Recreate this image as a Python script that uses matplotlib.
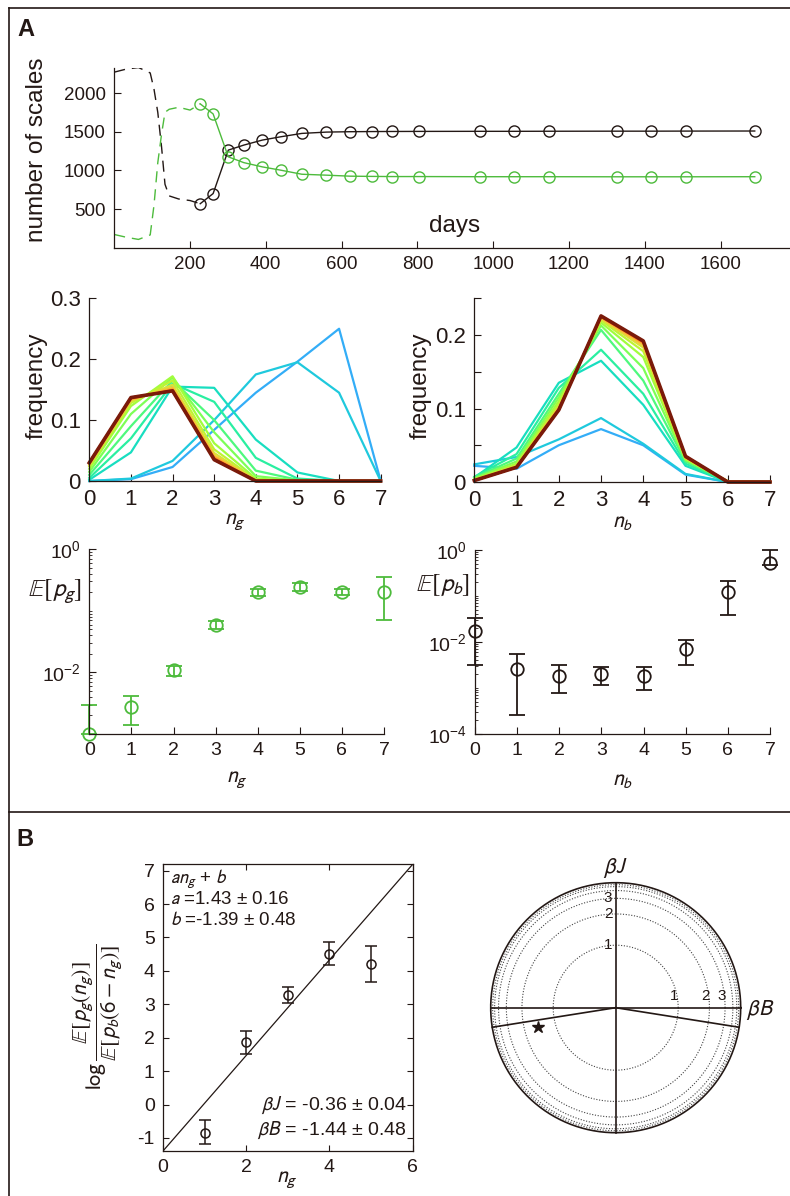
import matplotlib
matplotlib.use("Agg")
import matplotlib.pyplot as plt
import numpy as np
from matplotlib.lines import Line2D
from matplotlib.ticker import LogLocator, NullFormatter

plt.rcParams['font.family'] = ['Liberation Sans', 'DejaVu Sans']
plt.rcParams['mathtext.fontset'] = 'stixsans'
plt.rcParams['axes.unicode_minus'] = False

INK = '#231815'
GREEN = '#4dbb3c'

# ---- panel A, top: number of scales over time ----
days = [227, 261, 301, 342, 391, 440, 495, 560, 622, 679, 732, 805, 965, 1056, 1146, 1327, 1416, 1509, 1690]
n_black = [569, 700, 1262, 1327, 1392, 1435, 1478, 1495, 1500, 1502, 1503, 1504, 1505, 1505, 1506, 1507, 1507, 1508, 1509]
n_green = [1860, 1730, 1175, 1100, 1045, 1002, 950, 938, 925, 922, 920, 920, 918, 918, 918, 917, 917, 917, 918]
early_days = [0, 32, 64, 95, 105, 115, 125, 134, 145, 170, 200, 227]
early_black = [2270, 2310, 2330, 2260, 2050, 1750, 1300, 820, 670, 630, 610, 569]
early_green = [171, 135, 107, 165, 550, 1100, 1470, 1751, 1790, 1816, 1780, 1860]

# ---- panel A, middle: frequency of n_g / n_b (one row per time point) ----
n_vals = [0, 1, 2, 3, 4, 5, 6, 7]
freq_g = [
    [0.000, 0.003, 0.023, 0.084, 0.145, 0.196, 0.250, 0.0],
    [0.000, 0.004, 0.033, 0.100, 0.175, 0.195, 0.145, 0.0],
    [0.002, 0.047, 0.155, 0.153, 0.068, 0.014, 0.000, 0.0],
    [0.005, 0.070, 0.160, 0.130, 0.038, 0.004, 0.000, 0.0],
    [0.010, 0.090, 0.165, 0.100, 0.017, 0.002, 0.000, 0.0],
    [0.015, 0.110, 0.170, 0.080, 0.008, 0.001, 0.000, 0.0],
    [0.020, 0.123, 0.172, 0.062, 0.004, 0.000, 0.000, 0.0],
    [0.024, 0.128, 0.165, 0.052, 0.002, 0.000, 0.000, 0.0],
    [0.026, 0.131, 0.158, 0.046, 0.001, 0.000, 0.000, 0.0],
    [0.027, 0.133, 0.154, 0.042, 0.001, 0.000, 0.000, 0.0],
    [0.028, 0.134, 0.152, 0.040, 0.000, 0.000, 0.000, 0.0],
    [0.029, 0.135, 0.150, 0.038, 0.000, 0.000, 0.000, 0.0],
    [0.029, 0.136, 0.149, 0.037, 0.000, 0.000, 0.000, 0.0],
    [0.030, 0.136, 0.149, 0.036, 0.000, 0.000, 0.000, 0.0],
    [0.030, 0.137, 0.148, 0.036, 0.000, 0.000, 0.000, 0.0],
    [0.030, 0.137, 0.148, 0.035, 0.000, 0.000, 0.000, 0.0],
    [0.030, 0.137, 0.148, 0.035, 0.000, 0.000, 0.000, 0.0],
]
freq_b = [
    [0.022, 0.018, 0.050, 0.072, 0.050, 0.010, 0.000, 0.0],
    [0.024, 0.034, 0.058, 0.087, 0.052, 0.011, 0.000, 0.0],
    [0.006, 0.047, 0.135, 0.165, 0.105, 0.022, 0.000, 0.0],
    [0.007, 0.038, 0.128, 0.180, 0.120, 0.025, 0.000, 0.0],
    [0.006, 0.032, 0.120, 0.207, 0.138, 0.028, 0.001, 0.0],
    [0.005, 0.028, 0.115, 0.213, 0.155, 0.030, 0.001, 0.0],
    [0.004, 0.025, 0.110, 0.217, 0.170, 0.031, 0.001, 0.0],
    [0.003, 0.023, 0.106, 0.220, 0.178, 0.032, 0.001, 0.0],
    [0.003, 0.022, 0.103, 0.222, 0.183, 0.033, 0.001, 0.0],
    [0.003, 0.021, 0.101, 0.223, 0.186, 0.033, 0.001, 0.0],
    [0.002, 0.021, 0.100, 0.224, 0.188, 0.034, 0.000, 0.0],
    [0.002, 0.020, 0.099, 0.225, 0.190, 0.034, 0.000, 0.0],
    [0.002, 0.020, 0.099, 0.225, 0.190, 0.034, 0.000, 0.0],
    [0.002, 0.020, 0.099, 0.225, 0.191, 0.034, 0.000, 0.0],
    [0.002, 0.020, 0.098, 0.226, 0.191, 0.035, 0.000, 0.0],
    [0.002, 0.020, 0.098, 0.226, 0.192, 0.035, 0.000, 0.0],
    [0.002, 0.020, 0.098, 0.226, 0.192, 0.035, 0.000, 0.0],
]

# ---- panel A, bottom: E[p_g], E[p_b] with error bars ----
pg_mean = [1.0e-3, 2.7e-3, 1.1e-2, 5.9e-2, 0.200, 0.240, 0.204, 0.200]
pg_lo = [1.0e-3, 1.38e-3, 8.9e-3, 5.0e-2, 0.174, 0.209, 0.178, 0.071]
pg_hi = [2.95e-3, 4.2e-3, 1.29e-2, 6.8e-2, 0.230, 0.285, 0.230, 0.350]
pb_mean = [1.7e-2, 2.57e-3, 1.86e-3, 2.0e-3, 1.78e-3, 7.1e-3, 0.123, 0.525]
pb_lo = [3.1e-3, 2.6e-4, 7.6e-4, 1.15e-3, 9.1e-4, 3.1e-3, 3.9e-2, 0.47]
pb_hi = [3.3e-2, 5.5e-3, 3.1e-3, 2.9e-3, 2.8e-3, 1.12e-2, 0.214, 0.985]

# ---- panel B ----
ng_fit = [1, 2, 3, 4, 5]
log_ratio = [-0.84, 1.87, 3.27, 4.52, 4.21]
log_ratio_lo = [-1.19, 1.52, 3.03, 4.18, 3.67]
log_ratio_hi = [-0.45, 2.20, 3.52, 4.86, 4.75]
fit_a, fit_b = 1.43, -1.39
beta_B, beta_J = -1.44, -0.36
ring_values = [1, 2, 3, 4, 5, 6]
boundary_angles = [189, 351]

W, H = 790, 1196
fig = plt.figure(figsize=(W / 100, H / 100), dpi=100)


def axes_px(left, top, right, bottom):
    return fig.add_axes([left / W, 1 - bottom / H, (right - left) / W, (bottom - top) / H])


def text_px(x, y, s, **kw):
    kw.setdefault('color', INK)
    kw.setdefault('ha', 'center')
    kw.setdefault('va', 'center')
    fig.text(x / W, 1 - y / H, s, **kw)


def style(ax, size, box=False):
    ax.spines['top'].set_visible(box)
    ax.spines['right'].set_visible(box)
    for s in ax.spines.values():
        s.set_color(INK)
        s.set_linewidth(0.9)
    ax.tick_params(which='major', direction='in', length=5, width=0.8, colors=INK,
                   labelsize=size, top=box, right=box, pad=6)
    ax.tick_params(which='minor', direction='in', length=2.5, width=0.6, colors=INK,
                   top=box, right=box)
    ax.set_facecolor('none')


# frame lines
for xs, ys in [([9, 790], [8, 8]), ([9, 9], [8, 1196]), ([9, 790], [812, 812])]:
    fig.add_artist(Line2D([x / W for x in xs], [1 - y / H for y in ys], color=INK, lw=1.2))

text_px(26, 29, 'A', fontsize=17, fontweight='bold')
text_px(25, 839, 'B', fontsize=17, fontweight='bold')

# ---- top time series ----
ax = axes_px(114.2, 68.3, 790, 247.7)
ax.plot(early_days, early_black, color=INK, lw=1, dashes=(8, 5))
ax.plot(early_days, early_green, color=GREEN, lw=1, dashes=(8, 5))
ax.plot(days, n_black, color=INK, lw=1, marker='o', ms=8, mfc='none', mew=1)
ax.plot(days, n_green, color=GREEN, lw=1, marker='o', ms=8, mfc='none', mew=1)
ax.set_xlim(0, 1783)
ax.set_ylim(0, 2320)
ax.set_xticks(range(200, 1601, 200))
ax.set_yticks([500, 1000, 1500, 2000])
style(ax, 13.5)
text_px(37, 150, 'number of scales', fontsize=17.5, rotation=90)
text_px(455, 226, 'days', fontsize=17.5)

# ---- frequency panels ----
for rows, lims, pos, yt, lab, ylab_x in [
        (freq_g, 0.3, (89.3, 298.3, 380.7, 481), [0, 0.1, 0.2, 0.3], '$n_g$', 37),
        (freq_b, 0.25, (474.3, 298.3, 770, 482), [0, 0.1, 0.2], '$n_b$', 421)]:
    ax = axes_px(*pos)
    cols = plt.cm.turbo(np.linspace(0.23, 0.9, len(rows) - 1))
    for k, row in enumerate(rows[:-1]):
        ax.plot(n_vals, row, color=cols[k], lw=1.6, clip_on=False)
    ax.plot(n_vals, rows[-1], color='#7a1a0a', lw=2.6, clip_on=False)
    ax.set_xlim(0, 7)
    ax.set_ylim(0, lims)
    ax.set_xticks(n_vals)
    ax.set_yticks(yt)
    ax.set_yticklabels(['0' if v == 0 else f'{v:g}' for v in yt])
    if lims == 0.25:
        ax.set_yticks([0.05, 0.15, 0.25], minor=True)
    style(ax, 16)
    if lims == 0.25:
        ax.tick_params(which='minor', length=5, width=0.8)
    text_px(ylab_x, 386, 'frequency', fontsize=17.5, rotation=90)
    text_px((pos[0] + pos[2]) / 2, 521, lab, fontsize=16)

# ---- expected probability panels ----
for mean, lo, hi, col, pos, ylim, major, lab, ylab, ylab_xy in [
        (pg_mean, pg_lo, pg_hi, GREEN, (89.3, 549.3, 384, 734), (1e-3, 1), [1e-2, 1],
         '$n_g$', r'$\mathbb{E}[p_g]$', (55, 592)),
        (pb_mean, pb_lo, pb_hi, INK, (475, 550, 770, 734), (1e-4, 1), [1e-4, 1e-2, 1],
         '$n_b$', r'$\mathbb{E}[p_b]$', (443, 585))]:
    ax = axes_px(*pos)
    m = np.array(mean)
    err = [m - np.array(lo), np.array(hi) - m]
    ax.errorbar(n_vals, m, yerr=err, fmt='o', color=col, ms=9, mfc='none', mew=1.3,
                elinewidth=1.3, capsize=6, capthick=1.3, clip_on=False)
    ax.set_yscale('log')
    ax.set_xlim(0, 7)
    ax.set_ylim(*ylim)
    ax.set_xticks(n_vals)
    ax.set_yticks(major)
    ax.yaxis.set_minor_locator(LogLocator(base=10, subs=np.arange(1, 10), numticks=20))
    ax.yaxis.set_minor_formatter(NullFormatter())
    style(ax, 14)
    text_px(ylab_xy[0], ylab_xy[1], ylab, fontsize=18)
    text_px((pos[0] + pos[2]) / 2, 780, lab, fontsize=16)

# ---- panel B left: log ratio vs n_g ----
ax = axes_px(163, 864.3, 412.7, 1151)
xf = np.array([0, 6])
ax.plot(xf, fit_a * xf + fit_b, color=INK, lw=0.9)
r = np.array(log_ratio)
ax.errorbar(ng_fit, r, yerr=[r - np.array(log_ratio_lo), np.array(log_ratio_hi) - r],
            fmt='o', color=INK, ms=6.5, mfc='none', mew=1.1, elinewidth=1.1,
            capsize=4, capthick=1.1)
ax.set_xlim(0, 6)
ax.set_ylim(fit_b, fit_a * 6 + fit_b)
ax.set_xticks([0, 2, 4, 6])
ax.set_yticks(range(-1, 8))
style(ax, 14, box=True)
ax.tick_params(which='major', length=4)
for y, s in [(0.95, r'$an_g$ + $b$'), (0.878, r'$a$ =1.43 ± 0.16'), (0.806, r'$b$ =-1.39 ± 0.48')]:
    ax.text(0.028, y, s, transform=ax.transAxes, fontsize=13.5, color=INK, va='center')
for y, s in [(0.16, r'$\beta J$ = -0.36 ± 0.04'), (0.073, r'$\beta B$ = -1.44 ± 0.48')]:
    ax.text(0.976, y, s, transform=ax.transAxes, fontsize=14, color=INK, va='center', ha='right')
text_px(97, 1017, r'$\log\dfrac{\mathbb{E}[p_g(n_g)]}{\mathbb{E}[p_b(6-n_g)]}$', fontsize=16, rotation=90)
text_px(287, 1180, '$n_g$', fontsize=16)

# ---- panel B right: phase diagram on a squashed disc ----
R_px = 125
ax = axes_px(615.7 - 135, 1007.7 - 135, 615.7 + 135, 1007.7 + 135)
ax.set_xlim(-135 / R_px, 135 / R_px)
ax.set_ylim(-135 / R_px, 135 / R_px)
ax.set_aspect('equal')
ax.axis('off')


def squash(rr):
    return 1 - 2.0 ** (-np.asarray(rr, dtype=float))


t = np.linspace(0, 2 * np.pi, 400)
for rv in ring_values:
    s = squash(rv)
    ax.plot(s * np.cos(t), s * np.sin(t), color='#444444', lw=0.8, ls=(0, (1, 1.5)))
ax.plot(np.cos(t), np.sin(t), color=INK, lw=1.2)
ax.plot([-1, 1], [0, 0], color=INK, lw=1.2)
ax.plot([0, 0], [-1, 1], color=INK, lw=1.2)
for ang in boundary_angles:
    a = np.deg2rad(ang)
    ax.plot([0, np.cos(a)], [0, np.sin(a)], color=INK, lw=1.2)
for rv in ring_values[:3]:
    s = squash(rv)
    ax.text(s - 0.03, 0.09, str(rv), fontsize=11, color=INK, ha='center', va='center')
    ax.text(-0.06, s, str(rv), fontsize=11, color=INK, ha='center', va='center')
rad = np.hypot(beta_B, beta_J)
th = np.arctan2(beta_J, beta_B)
ax.plot(squash(rad) * np.cos(th), squash(rad) * np.sin(th), marker='*', color=INK, ms=9, ls='none')
ax.text(0, 1.12, r'$\beta J$', fontsize=16, color=INK, ha='center', va='center')
ax.text(1.16, -0.02, r'$\beta B$', fontsize=16, color=INK, ha='center', va='center')

fig.savefig('out.png', dpi=100, facecolor='white')
